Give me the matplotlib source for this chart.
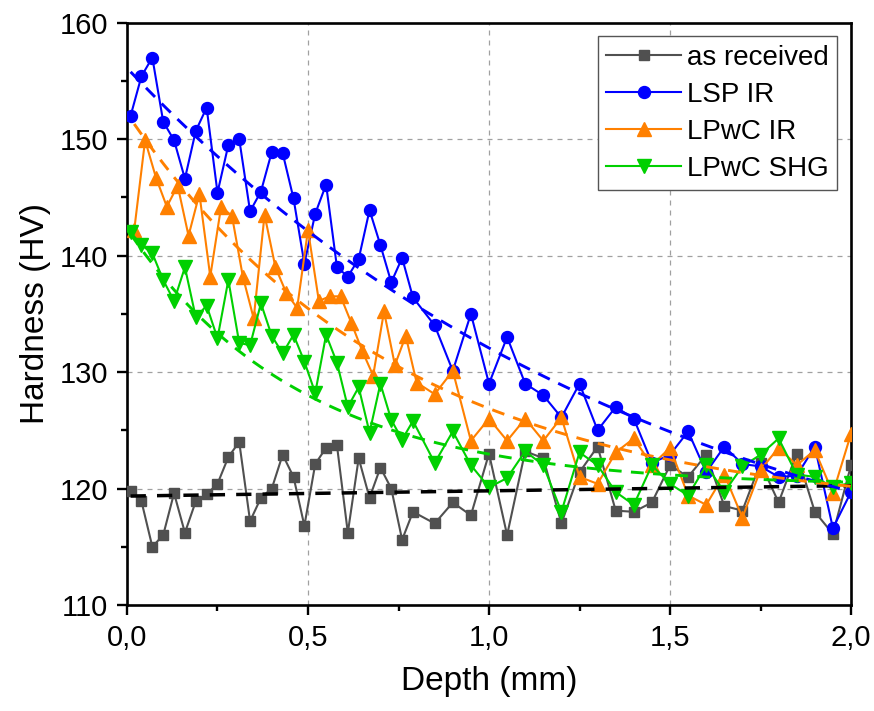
import matplotlib
matplotlib.use("Agg")
import matplotlib.pyplot as plt
from matplotlib.ticker import MultipleLocator, FuncFormatter
import numpy as np

plt.rcParams["font.family"] = ["Liberation Sans", "DejaVu Sans"]

# Depth positions (mm): fine traverse near the surface, then 0.05 mm steps
depth_fine = [0.01, 0.04, 0.07, 0.10, 0.13, 0.16, 0.19, 0.22, 0.25, 0.28,
              0.31, 0.34, 0.37, 0.40, 0.43, 0.46, 0.49, 0.52, 0.55, 0.58,
              0.61, 0.64, 0.67, 0.70, 0.73, 0.76, 0.79]
depth_fine_ir = [0.02, 0.05, 0.08, 0.11, 0.14, 0.17, 0.20, 0.23, 0.26, 0.29,
                 0.32, 0.35, 0.38, 0.41, 0.44, 0.47, 0.50, 0.53, 0.56, 0.59,
                 0.62, 0.65, 0.68, 0.71, 0.74, 0.77, 0.80]
depth_coarse = [0.85, 0.90, 0.95, 1.00, 1.05, 1.10, 1.15, 1.20, 1.25, 1.30,
                1.35, 1.40, 1.45, 1.50, 1.55, 1.60, 1.65, 1.70, 1.75, 1.80,
                1.85, 1.90, 1.95, 2.00]

# Hardness (HV)
hv_as_received = [119.8, 118.9, 115.0, 116.0, 119.6, 116.2, 118.9, 119.5, 120.4, 122.7,
                  124.0, 117.2, 119.2, 120.0, 122.9, 121.0, 116.8, 122.1, 123.5, 123.7,
                  116.2, 122.6, 119.2, 121.8, 120.0, 115.6, 118.0,
                  117.0, 118.8, 117.7, 123.0, 116.0, 123.2, 122.6, 117.0, 121.4, 123.6,
                  118.1, 118.0, 118.8, 122.0, 121.0, 122.9, 118.5, 118.1, 122.2, 118.8,
                  123.0, 118.0, 116.1, 122.0]
hv_lsp_ir = [152.0, 155.4, 157.0, 151.5, 149.9, 146.6, 150.7, 152.7, 145.4, 149.5,
             150.0, 143.8, 145.5, 148.9, 148.8, 144.9, 139.3, 143.6, 146.1, 139.0,
             138.2, 139.7, 143.9, 140.9, 137.7, 139.8, 136.4,
             134.0, 130.1, 135.0, 129.0, 133.0, 129.0, 128.0, 126.1, 129.0, 125.0,
             127.0, 126.0, 122.2, 122.9, 124.9, 121.4, 123.6, 122.1, 121.9, 121.0,
             121.1, 123.6, 116.6, 119.7]
hv_lpwc_ir = [142.2, 149.9, 146.7, 144.2, 146.0, 141.7, 145.3, 138.2, 144.2, 143.4,
              138.2, 134.6, 143.5, 139.0, 136.8, 135.5, 142.2, 136.1, 136.5, 136.5,
              134.2, 131.8, 129.7, 135.2, 130.6, 133.1, 129.1,
              128.1, 130.1, 124.1, 126.0, 124.1, 126.0, 124.1, 126.1, 121.0, 120.4,
              123.1, 124.3, 122.0, 123.5, 119.4, 118.6, 121.2, 117.5, 121.6, 123.5,
              122.0, 123.3, 119.6, 124.7]
hv_lpwc_shg = [142.0, 140.9, 140.2, 137.9, 136.1, 139.0, 134.7, 135.7, 132.9, 137.9,
               132.5, 132.3, 135.9, 133.1, 131.6, 133.2, 130.9, 128.2, 133.2, 130.8,
               127.0, 128.7, 124.8, 129.0, 125.9, 124.2, 125.8,
               122.2, 124.9, 122.0, 120.1, 120.9, 123.2, 122.0, 118.0, 123.1, 122.0,
               119.7, 118.6, 122.0, 120.4, 119.4, 122.0, 119.7, 121.9, 122.9, 124.3,
               121.2, 121.0, 120.1, 120.5]

# Trend lines: linear for the base material, exponential decay y0 + A*exp(-x/t)
fit_as_received = {"intercept": 119.35, "slope": 0.45}
fit_lsp_ir = {"y0": 106.7, "A": 49.4, "t": 1.5}
fit_lpwc_ir = {"y0": 117.8, "A": 34.4, "t": 0.75}
fit_lpwc_shg = {"y0": 120.2, "A": 22.1, "t": 0.48}

labels = ["as received", "LSP IR", "LPwC IR", "LPwC SHG"]
colors = ["#505050", "#0000ff", "#ff8000", "#00d000"]

fig = plt.figure(figsize=(8.74, 7.11), dpi=100)
ax = fig.add_axes([0.1453, 0.1491, 0.8284, 0.8191])

x_fine = np.array(depth_fine + depth_coarse)
x_fine_ir = np.array(depth_fine_ir + depth_coarse)

series = [
    (x_fine, hv_as_received, "s", 7.6),
    (x_fine, hv_lsp_ir, "o", 8.6),
    (x_fine_ir, hv_lpwc_ir, "^", 9.6),
    (x_fine, hv_lpwc_shg, "v", 9.6),
]
for (x, y, mk, ms), lab, col in zip(series, labels, colors):
    ax.plot(x, y, color=col, lw=1.5, marker=mk, ms=ms, mec=col, mfc=col,
            label=lab, zorder=3)

dash = (0, (4.4, 3.2))
xs = np.linspace(x_fine[0], 2.0, 300)
ax.plot(xs, fit_as_received["intercept"] + fit_as_received["slope"] * xs,
        color="black", lw=2.5, linestyle=dash, zorder=4)
for fit, col, x0 in [(fit_lsp_ir, colors[1], x_fine[0]),
                     (fit_lpwc_ir, colors[2], x_fine_ir[0]),
                     (fit_lpwc_shg, colors[3], x_fine[0])]:
    xx = np.linspace(x0, 2.0, 300)
    ax.plot(xx, fit["y0"] + fit["A"] * np.exp(-xx / fit["t"]),
            color=col, lw=2.1, linestyle=dash, zorder=4)

ax.set_xlim(0, 2.0)
ax.set_ylim(110, 160)
ax.xaxis.set_major_locator(MultipleLocator(0.5))
ax.xaxis.set_minor_locator(MultipleLocator(0.25))
ax.yaxis.set_major_locator(MultipleLocator(10))
ax.yaxis.set_minor_locator(MultipleLocator(5))
ax.xaxis.set_major_formatter(FuncFormatter(lambda v, p: f"{v:.1f}".replace(".", ",")))

ax.grid(True, which="major", color="#a0a0a0", linestyle=(0, (4, 4)), linewidth=0.9)
ax.set_axisbelow(True)

for s in ax.spines.values():
    s.set_linewidth(1.9)
ax.tick_params(which="major", direction="out", length=7.5, width=1.7,
               labelsize=21, pad=6, top=False, right=False)
ax.tick_params(which="minor", direction="out", length=4.5, width=1.7,
               top=False, right=False)

ax.set_xlabel("Depth (mm)", fontsize=24, labelpad=10)
ax.set_ylabel("Hardness (HV)", fontsize=24, labelpad=6)

leg = ax.legend(loc="upper right", fontsize=20, frameon=True, fancybox=False,
                edgecolor="#555555", framealpha=1.0, handlelength=2.7,
                handletextpad=0.2, labelspacing=0.4, borderpad=0.3,
                borderaxespad=0.5)
leg.get_frame().set_linewidth(1.0)

fig.savefig("out.png", dpi=100)
